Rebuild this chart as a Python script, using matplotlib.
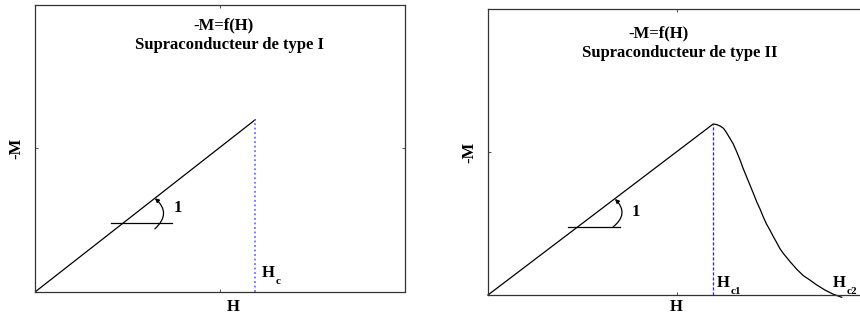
import matplotlib
matplotlib.use('Agg')
import matplotlib.pyplot as plt

plt.rcParams['font.family'] = 'Liberation Serif'
plt.rcParams['font.weight'] = 'bold'

# type I: linear up to Hc, then drops to zero
h_type1 = [0, 5.95]
m_type1 = [0, 6.0]
hc = 5.95

# type II: linear up to Hc1, then decays toward Hc2
h_type2 = [0, 5.96, 6.05, 6.14, 6.23, 6.31, 6.40, 6.49, 6.58, 6.67, 6.75, 6.84, 6.93,
           7.02, 7.11, 7.20, 7.28, 7.37, 7.46, 7.55, 7.64, 7.72, 7.81, 7.99, 8.17,
           8.34, 8.52, 8.70, 8.92, 9.13, 9.36]
m_type2 = [0, 5.98, 5.96, 5.91, 5.83, 5.68, 5.48, 5.28, 5.01, 4.72, 4.43, 4.14, 3.85,
           3.56, 3.26, 3.00, 2.74, 2.48, 2.27, 2.04, 1.83, 1.63, 1.46, 1.17, 0.90,
           0.68, 0.52, 0.35, 0.17, 0.03, -0.08]
hc1 = 5.96
hc2 = 9.13


def label_h(ax, x, y, sub):
    # H with a low, small subscript like the original drawing
    ax.text(x, y, 'H', fontsize=12, ha='left', va='baseline')
    ax.annotate(sub, xy=(x, y), xytext=(10, -5), textcoords='offset points',
                fontsize=8, ha='left', va='baseline')


def slope_arc(ax, top, bottom):
    # curved arrow marking the slope angle, bulging to the right
    ax.annotate('', xy=top, xytext=bottom,
                arrowprops=dict(arrowstyle='-|>', color='black', lw=0.9, mutation_scale=6,
                                shrinkA=0, shrinkB=0,
                                connectionstyle='arc3,rad=0.55'))


fig = plt.figure(figsize=(8.6, 3.23), dpi=100)
ax1 = fig.add_axes([0.0407, 0.096, 0.4302, 0.8885])
ax2 = fig.add_axes([0.5674, 0.0867, 0.4395, 0.8854])

for ax in (ax1, ax2):
    ax.set_xlim(0, 10)
    ax.set_ylim(0, 10)
    ax.set_xticks([5])
    ax.set_yticks([5])
    ax.set_xticklabels([])
    ax.set_yticklabels([])
    ax.tick_params(direction='in', length=2, width=0.6, top=True, right=True, color='#333333')
    for s in ax.spines.values():
        s.set_linewidth(0.9)
        s.set_color('#333333')

# left panel
ax1.plot(h_type1, m_type1, color='black', lw=0.9)
ax1.plot([hc, hc], [0, m_type1[-1]], color='#7070ff', lw=1.3, linestyle=(0, (1, 1.5)))
ax1.plot([2.05, 3.7], [2.4, 2.4], color='black', lw=0.9)
slope_arc(ax1, (3.24, 3.27), (3.24, 2.2))
ax1.text(3.76, 2.93, '1', fontsize=12, ha='left', va='center')
label_h(ax1, 6.14, 0.52, 'c')
ax1.text(0.51, 0.93, '-M=f(H)', transform=ax1.transAxes, fontsize=12, ha='center', va='center')
ax1.text(0.527, 0.86, 'Supraconducteur de type I', transform=ax1.transAxes, fontsize=12,
         ha='center', va='center')
ax1.text(-0.049, 0.5, '-M', transform=ax1.transAxes, fontsize=12, rotation=90,
         ha='center', va='center')
ax1.text(0.535, -0.052, 'H', transform=ax1.transAxes, fontsize=12, ha='center', va='center')

# right panel
ax2.plot(h_type2, m_type2, color='black', lw=0.9, clip_on=False)
ax2.plot([hc1, hc1], [0, m_type2[1]], color='#2020ff', lw=0.9, linestyle=(0, (2.5, 1.5)))
ax2.plot([2.12, 3.49], [2.38, 2.38], color='black', lw=0.9)
slope_arc(ax2, (3.36, 3.36), (3.31, 2.38))
ax2.text(3.81, 2.9, '1', fontsize=12, ha='left', va='center')
label_h(ax2, 6.06, 0.28, 'c1')
label_h(ax2, hc2, 0.28, 'c2')
ax2.text(0.45, 0.916, '-M=f(H)', transform=ax2.transAxes, fontsize=12, ha='center', va='center')
ax2.text(0.508, 0.846, 'Supraconducteur de type II', transform=ax2.transAxes, fontsize=12,
         ha='center', va='center')
ax2.text(-0.048, 0.5, '-M', transform=ax2.transAxes, fontsize=12, rotation=90,
         ha='center', va='center')
ax2.text(0.497, -0.042, 'H', transform=ax2.transAxes, fontsize=12, ha='center', va='center')

fig.savefig('out.png', dpi=100)
